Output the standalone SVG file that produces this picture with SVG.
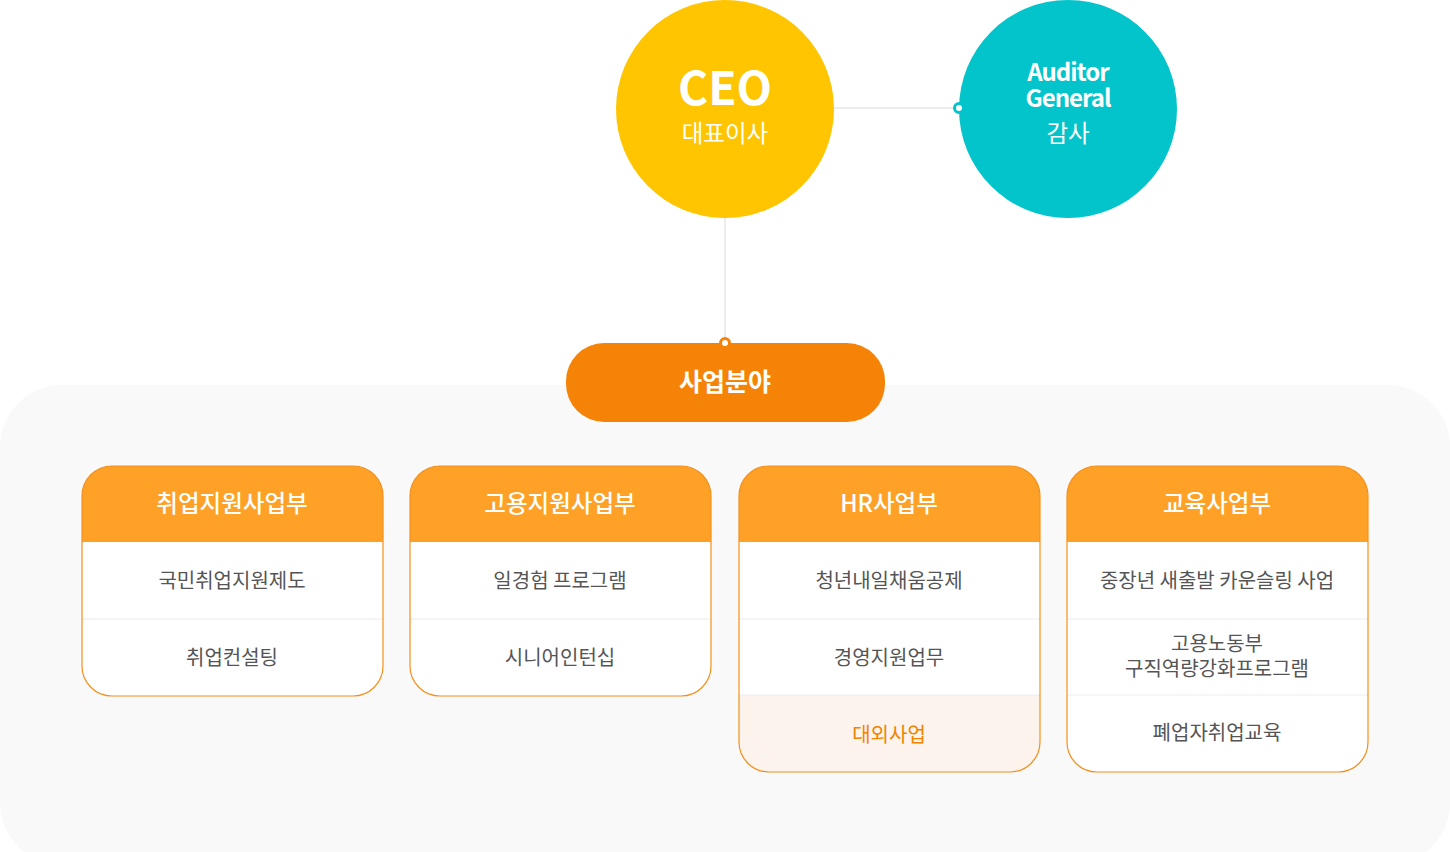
<svg xmlns="http://www.w3.org/2000/svg" width="1450" height="852" viewBox="0 0 1450 852">
<defs>
<style>
.kr{font-family:"Noto Sans CJK KR","Noto Sans",sans-serif;}
.hd{font-size:23.5px;fill:#fff;font-weight:500;text-anchor:middle;}
.it{font-size:20px;fill:#555;text-anchor:middle;}
.sep{stroke:#ececec;stroke-width:1;}
.card{fill:none;stroke:#f3901c;stroke-width:1.2;}
.hfill{fill:#fea126;}
.conn{stroke:#d9d9d9;stroke-width:1;fill:none;}
</style>
<clipPath id="c1"><rect x="82" y="466" width="301" height="230" rx="30"/></clipPath>
<clipPath id="c2"><rect x="410" y="466" width="301" height="230" rx="30"/></clipPath>
<clipPath id="c3"><rect x="739" y="466" width="301" height="306" rx="30"/></clipPath>
<clipPath id="c4"><rect x="1067" y="466" width="301" height="306" rx="30"/></clipPath>
</defs>
<rect x="0" y="0" width="1450" height="852" fill="#fff"/>
<rect id="panel" x="0" y="385" width="1450" height="480" rx="62" fill="#f9f9f9"/>
<g id="connectors">
<line class="conn" x1="834" y1="108" x2="959" y2="108"/>
<line class="conn" x1="725" y1="218" x2="725" y2="343"/>
</g>
<g id="ceo">
<circle cx="725" cy="109" r="109" fill="#fec500"/>
<text x="725" y="105" class="kr" font-size="46" font-weight="700" fill="#fff" text-anchor="middle">CEO</text>
<text x="725" y="142" class="kr" font-size="23.5" fill="#fff" text-anchor="middle">대표이사</text>
</g>
<g id="auditor">
<circle cx="1068" cy="109" r="109" fill="#02c4ca"/>
<text x="1068" y="81" class="kr" font-size="24" font-weight="700" fill="#fff" text-anchor="middle" letter-spacing="-1">Auditor</text>
<text x="1068" y="107" class="kr" font-size="24" font-weight="700" fill="#fff" text-anchor="middle" letter-spacing="-1">General</text>
<text x="1068" y="142" class="kr" font-size="23.5" fill="#fff" text-anchor="middle">감사</text>
<circle cx="959" cy="108" r="4.5" fill="#fff" stroke="#02c4ca" stroke-width="3"/>
</g>
<g id="business">
<rect x="566" y="343" width="319" height="79" rx="38" fill="#f48307"/>
<text x="725" y="391" class="kr" font-size="25" font-weight="700" fill="#fff" text-anchor="middle">사업분야</text>
<circle cx="725" cy="343" r="4.5" fill="#fff" stroke="#f48307" stroke-width="3"/>
</g>
<g id="card1">
<g clip-path="url(#c1)">
<rect x="82" y="466" width="301" height="230" fill="#fff"/>
<rect class="hfill" x="82" y="466" width="301" height="76"/>
<line class="sep" x1="82" y1="619" x2="383" y2="619"/>
</g>
<rect class="card" x="82" y="466" width="301" height="230" rx="30"/>
<text x="232" y="512" class="kr hd">취업지원사업부</text>
<text x="232" y="588" class="kr it">국민취업지원제도</text>
<text x="232" y="665" class="kr it">취업컨설팅</text>
</g>
<g id="card2">
<g clip-path="url(#c2)">
<rect x="410" y="466" width="301" height="230" fill="#fff"/>
<rect class="hfill" x="410" y="466" width="301" height="76"/>
<line class="sep" x1="410" y1="619" x2="711" y2="619"/>
</g>
<rect class="card" x="410" y="466" width="301" height="230" rx="30"/>
<text x="560" y="512" class="kr hd">고용지원사업부</text>
<text x="560" y="588" class="kr it">일경험 프로그램</text>
<text x="560" y="665" class="kr it">시니어인턴십</text>
</g>
<g id="card3">
<g clip-path="url(#c3)">
<rect x="739" y="466" width="301" height="306" fill="#fff"/>
<rect class="hfill" x="739" y="466" width="301" height="76"/>
<rect x="739" y="695" width="301" height="77" fill="#fbf3ec"/>
<line class="sep" x1="739" y1="619" x2="1040" y2="619"/>
<line class="sep" x1="739" y1="695" x2="1040" y2="695"/>
</g>
<rect class="card" x="739" y="466" width="301" height="306" rx="30"/>
<text x="889" y="512" class="kr hd">HR사업부</text>
<text x="889" y="588" class="kr it">청년내일채움공제</text>
<text x="889" y="665" class="kr it">경영지원업무</text>
<text x="889" y="742" class="kr it" style="fill:#f08300">대외사업</text>
</g>
<g id="card4">
<g clip-path="url(#c4)">
<rect x="1067" y="466" width="301" height="306" fill="#fff"/>
<rect class="hfill" x="1067" y="466" width="301" height="76"/>
<line class="sep" x1="1067" y1="619" x2="1368" y2="619"/>
<line class="sep" x1="1067" y1="695" x2="1368" y2="695"/>
</g>
<rect class="card" x="1067" y="466" width="301" height="306" rx="30"/>
<text x="1217" y="512" class="kr hd">교육사업부</text>
<text x="1217" y="588" class="kr it">중장년 새출발 카운슬링 사업</text>
<text x="1217" y="651" class="kr it">고용노동부</text>
<text x="1217" y="676" class="kr it">구직역량강화프로그램</text>
<text x="1217" y="740" class="kr it">폐업자취업교육</text>
</g>
</svg>
